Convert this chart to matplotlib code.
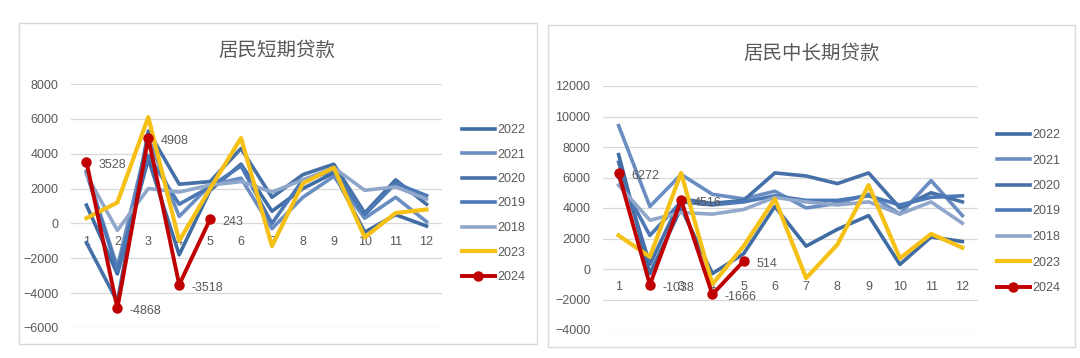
import matplotlib
matplotlib.use("Agg")
import matplotlib.pyplot as plt
from matplotlib.patches import Rectangle

plt.rcParams['font.family'] = ['Liberation Sans', 'Noto Sans CJK SC', 'DejaVu Sans']

months = list(range(1, 13))
years = ['2022', '2021', '2020', '2019', '2018', '2023', '2024']

# 居民短期贷款 (亿元)
short_2022 = [1050, -2900, 3700, -1800, 1900, 3400, 700, 2000, 2900, -500, 500, -150]
short_2021 = [3000, -2500, 4900, 400, 2200, 2600, -300, 1500, 2700, 300, 1500, 100]
short_2020 = [-1100, -4500, 5300, 2250, 2400, 4300, 1500, 2800, 3400, 600, 2500, 1100]
short_2019 = [2900, -2700, 3900, 1100, 2100, 3300, 0, 2500, 3000, 500, 2300, 1600]
short_2018 = [2800, -400, 2000, 1800, 2200, 2400, 1800, 2500, 3200, 1900, 2100, 1400]
short_2023 = [300, 1200, 6100, -1000, 2000, 4900, -1300, 2300, 3200, -800, 600, 800]
short_2024 = [3528, -4868, 4908, -3518, 243]

# 居民中长期贷款 (亿元)
long_2022 = [7500, -300, 4000, -300, 1000, 4100, 1500, 2600, 3500, 300, 2100, 1800]
long_2021 = [9400, 4100, 6200, 4900, 4600, 5100, 4000, 4300, 4900, 3600, 5800, 3500]
long_2020 = [7000, 300, 4600, 4300, 4500, 6300, 6100, 5600, 6300, 4000, 5000, 4400]
long_2019 = [6000, 2200, 4400, 4200, 4400, 4800, 4500, 4500, 4800, 4200, 4700, 4800]
long_2018 = [5500, 3200, 3700, 3600, 3900, 4700, 4400, 4200, 4400, 3600, 4400, 3000]
long_2023 = [2200, 800, 6300, -1000, 1500, 4600, -600, 1600, 5500, 700, 2300, 1400]
long_2024 = [6272, -1038, 4516, -1666, 514]

colors = {'2022': '#3f6ca3', '2021': '#6b8ec2', '2020': '#4670a8',
          '2019': '#4c79b5', '2018': '#8fa7ca', '2023': '#f5c116', '2024': '#c00000'}

W, H = 1080, 358
fig = plt.figure(figsize=(W / 100, H / 100), dpi=100)
fig.patch.set_facecolor('white')

grey = '#595959'


def fx(px):
    return px / W


def fy(py):
    return 1 - py / H


def panel(box, title, title_xy, ax_box, ylim, series, legend_xy, row_gap):
    x0, y0, x1, y1 = box
    fig.patches.append(Rectangle((fx(x0), fy(y1)), fx(x1 - x0), (y1 - y0) / H,
                                 transform=fig.transFigure, fill=False,
                                 edgecolor='#d9d9d9', lw=1.0))
    fig.text(fx(title_xy[0]), fy(title_xy[1]), title, ha='center', va='center',
             fontsize=14, color=grey, family=['Noto Sans CJK SC', 'DejaVu Sans'])
    l, t, r, b = ax_box
    ax = fig.add_axes([fx(l), fy(b), fx(r - l), (b - t) / H])
    ax.set_xlim(0.5, 12.5)
    ax.set_ylim(*ylim)
    ax.set_yticks(range(ylim[0], ylim[1] + 1, 2000))
    for s in ax.spines.values():
        s.set_visible(False)
    ax.grid(axis='y', color='#d9d9d9', lw=0.9)
    ax.set_axisbelow(True)
    ax.tick_params(axis='y', length=0, pad=9, labelsize=9, labelcolor=grey)
    ax.spines['bottom'].set_position(('data', 0))
    ax.set_xticks(months)
    ax.tick_params(axis='x', length=0, pad=9, labelsize=9, labelcolor=grey)
    handles = []
    for yr in years:
        vals = series[yr]
        xs = months[:len(vals)]
        if yr == '2024':
            h, = ax.plot(xs, vals, color=colors[yr], lw=2.8, marker='o', ms=6.5,
                         zorder=5, label=yr)
            for x, v in zip(xs, vals):
                ax.annotate(str(v), (x, v), xytext=(9, -2), textcoords='offset points',
                            ha='left', va='center', fontsize=9, color=grey, zorder=6)
        else:
            lw = 3.0 if yr == '2023' else 2.6
            h, = ax.plot(xs, vals, color=colors[yr], lw=lw, zorder=3, label=yr)
        handles.append(h)
    fig.legend(handles=handles, loc='upper left',
               bbox_to_anchor=(fx(legend_xy[0]), fy(legend_xy[1])),
               frameon=False, fontsize=9, labelcolor=grey, handlelength=2.6,
               handletextpad=0.25, labelspacing=row_gap, borderaxespad=0,
               borderpad=0)
    return ax


panel((19, 23, 537, 344), '居民短期贷款', (277, 50), (71, 84, 442, 328), (-6000, 8000),
      {'2022': short_2022, '2021': short_2021, '2020': short_2020, '2019': short_2019,
       '2018': short_2018, '2023': short_2023, '2024': short_2024},
      (462, 124), 1.0)

panel((548, 25, 1075, 347), '居民中长期贷款', (812, 53), (603, 86, 978, 330), (-4000, 12000),
      {'2022': long_2022, '2021': long_2021, '2020': long_2020, '2019': long_2019,
       '2018': long_2018, '2023': long_2023, '2024': long_2024},
      (997, 129), 1.08)

fig.savefig('out.png', dpi=100, facecolor='white')
